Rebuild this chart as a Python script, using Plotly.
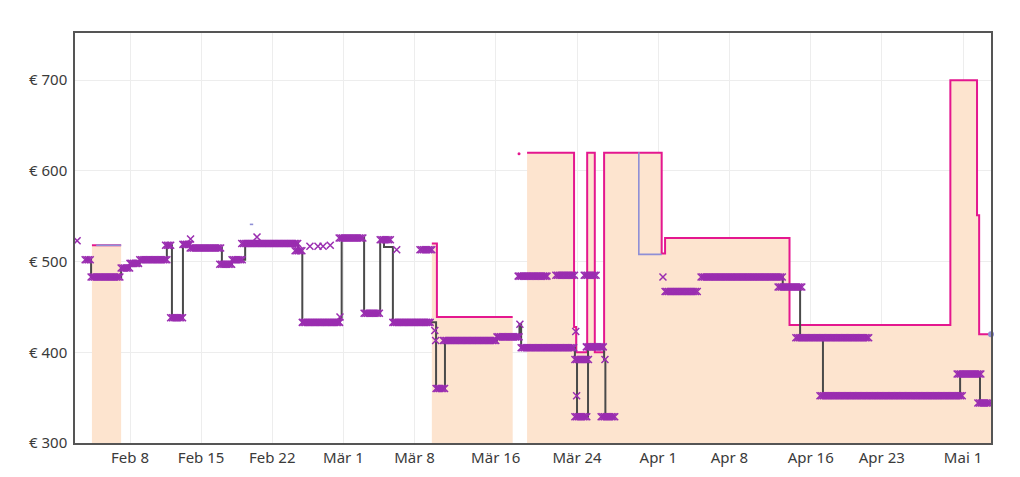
import plotly.graph_objects as go
import pandas as pd

# ---------------- data ----------------
# Amazon price (step series, None = no offer)
amz_dates = ["2023-02-04 06:00", "2023-02-07 03:00", None,
             "2023-03-09 17:00", "2023-03-10 05:00", "2023-03-17 16:00", None,
             "2023-03-19 02:00", "2023-03-23 17:00", "2023-03-23 22:00", "2023-03-25 00:00",
             "2023-03-25 18:00", "2023-03-26 16:00", "2023-04-01 08:00", "2023-04-01 16:00",
             "2023-04-13 22:00", "2023-04-29 18:00", "2023-05-02 09:00", "2023-05-02 14:00",
             "2023-05-03 18:00"]
amz_vals = [518, 518, None,
            520, 439, 439, None,
            620, 428, 400, 620,
            400, 620, 509, 526,
            430, 700, 551, 420,
            420]
amz_dot_date = ["2023-03-18 07:00"]
amz_dot_val = [619]

# Second series (lavender)
lav_dates = ["2023-02-04 16:00", "2023-02-07 03:00", None,
             "2023-02-19 19:00", "2023-02-20 03:00", None,
             "2023-03-30 01:00", "2023-03-30 02:00", "2023-04-01 08:00"]
lav_vals = [518, 518, None,
            541, 541, None,
            620, 508, 508]
lav_end_date = ["2023-05-03 18:00"]
lav_end_val = [420]

# Third-party price (step line)
gray_dates = ["2023-02-03 14:00", "2023-02-04 04:00", "2023-02-07 03:00", "2023-02-08 00:00",
              "2023-02-08 23:00", "2023-02-11 15:00", "2023-02-12 03:00", "2023-02-13 05:00",
              "2023-02-13 22:00", "2023-02-17 01:00", "2023-02-18 01:00", "2023-02-19 08:00",
              "2023-02-24 13:00", "2023-02-24 23:00", "2023-02-28 16:00", "2023-02-28 20:00",
              "2023-03-03 01:00", "2023-03-04 15:00", "2023-03-05 00:00", "2023-03-05 21:00",
              "2023-03-10 03:00", "2023-03-11 00:00", "2023-03-16 03:00", "2023-03-18 08:00",
              "2023-03-18 12:00", "2023-03-23 19:00", "2023-03-24 00:00", "2023-03-25 02:00",
              "2023-03-26 16:00", "2023-03-26 19:00", "2023-03-27 18:00", None,
              "2023-04-05 05:00", "2023-04-13 06:00", "2023-04-14 23:00", "2023-04-17 05:00",
              "2023-04-30 17:00", "2023-05-02 16:00", "2023-05-03 18:00"]
gray_vals = [502, 483, 493, 498,
             502, 518, 438, 520,
             515, 497, 502, 520,
             512, 433, 439, 526,
             443, 524, 516, 433,
             360, 413, 418, 431,
             405, 392, 329, 405,
             392, 329, 329, None,
             483, 472, 416, 352,
             376, 344, 344]

# Observed offers: runs of constant price (start, end, price)
run_starts = ["2023-02-03 14:00", "2023-02-04 04:00", "2023-02-07 03:00", "2023-02-08 00:00",
              "2023-02-08 23:00", "2023-02-11 12:00", "2023-02-12 00:00", "2023-02-13 05:00",
              "2023-02-13 22:00", "2023-02-16 20:00", "2023-02-18 01:00", "2023-02-19 00:00",
              "2023-02-24 06:00", "2023-02-24 23:00", "2023-02-28 14:00", "2023-03-03 01:00",
              "2023-03-04 15:00", "2023-03-05 21:00", "2023-03-08 13:00", "2023-03-10 03:00",
              "2023-03-10 20:00", "2023-03-16 03:00", "2023-03-18 12:00", "2023-03-18 05:00",
              "2023-03-21 22:00", "2023-03-24 17:00", "2023-03-23 19:00", "2023-03-23 19:00",
              "2023-03-24 22:00", "2023-03-26 09:00", "2023-04-01 16:00", "2023-04-05 05:00",
              "2023-04-12 19:00", "2023-04-14 13:00", "2023-04-16 22:00", "2023-04-30 10:00",
              "2023-05-02 11:00"]
run_ends = ["2023-02-04 02:00", "2023-02-07 03:00", "2023-02-08 00:00", "2023-02-08 23:00",
            "2023-02-11 15:00", "2023-02-12 03:00", "2023-02-13 05:00", "2023-02-13 22:00",
            "2023-02-17 01:00", "2023-02-18 01:00", "2023-02-19 03:00", "2023-02-24 13:00",
            "2023-02-24 23:00", "2023-02-28 16:00", "2023-03-03 00:00", "2023-03-04 15:00",
            "2023-03-05 16:00", "2023-03-09 13:00", "2023-03-09 20:00", "2023-03-11 00:00",
            "2023-03-16 03:00", "2023-03-18 10:00", "2023-03-23 19:00", "2023-03-21 01:00",
            "2023-03-23 19:00", "2023-03-25 21:00", "2023-03-25 03:00", "2023-03-25 02:00",
            "2023-03-26 16:00", "2023-03-27 18:00", "2023-04-04 22:00", "2023-04-13 06:00",
            "2023-04-15 03:00", "2023-04-21 18:00", "2023-05-01 00:00", "2023-05-02 21:00",
            "2023-05-04 01:00"]
run_vals = [502, 483, 493, 498,
            502, 518, 438, 519,
            515, 497, 502, 520,
            512, 433, 526, 443,
            524, 433, 513, 360,
            413, 417, 405, 484,
            485, 485, 392, 329,
            406, 329, 467, 483,
            472, 416, 352, 376,
            344]

single_dates = ["2023-02-02 19:00", "2023-02-13 23:00", "2023-02-20 12:00", "2023-02-25 17:00",
                "2023-02-26 12:00", "2023-02-27 00:00", "2023-02-27 17:00", "2023-02-28 16:00",
                "2023-03-06 06:00", "2023-03-10 00:00", "2023-03-10 02:00", "2023-03-18 09:00",
                "2023-03-23 21:00", "2023-03-23 23:00", "2023-03-26 18:00", "2023-04-01 11:00"]
single_vals = [523, 525, 527, 517,
               517, 517, 518, 439,
               513, 424, 413, 431,
               423, 352, 392, 483]

tick_dates = ["2023-02-08", "2023-02-15", "2023-02-22", "2023-03-01", "2023-03-08", "2023-03-16",
              "2023-03-24", "2023-04-01", "2023-04-08", "2023-04-16", "2023-04-23", "2023-05-01"]
tick_labels = ["Feb 8", "Feb 15", "Feb 22", "Mär 1", "Mär 8", "Mär 16",
               "Mär 24", "Apr 1", "Apr 8", "Apr 16", "Apr 23", "Mai 1"]
y_ticks = [300, 400, 500, 600, 700]

# observation times within each run (every 4 hours)
mk_x, mk_y = [], []
for s, e, v in zip(run_starts, run_ends, run_vals):
    for t in pd.date_range(s, e, freq="4h"):
        mk_x.append(t)
        mk_y.append(v)
mk_x += [pd.Timestamp(d) for d in single_dates]
mk_y += single_vals

# split the Amazon series at the gaps so each offer period is filled on its own
segments = []
cur_x, cur_y = [], []
for d, v in zip(amz_dates, amz_vals):
    if d is None:
        segments.append((cur_x, cur_y))
        cur_x, cur_y = [], []
    else:
        cur_x.append(d)
        cur_y.append(v)
segments.append((cur_x, cur_y))

# ---------------- figure ----------------
PEACH = "#FDE4CF"
MAGENTA = "#E4178F"
LAV = "#8F8FD6"
GRAY = "#4A4A4A"
PURPLE = "#9A2DB0"

fig = go.Figure()
for sx, sy in segments:
    fig.add_trace(go.Scatter(x=sx, y=sy, mode="lines", line_shape="hv",
                             line=dict(width=0), fill="tozeroy", fillcolor=PEACH,
                             hoverinfo="skip"))
fig.add_trace(go.Scatter(x=amz_dates, y=amz_vals, mode="lines", line_shape="hv",
                         line=dict(color=MAGENTA, width=2), connectgaps=False))
fig.add_trace(go.Scatter(x=amz_dot_date, y=amz_dot_val, mode="markers",
                         marker=dict(color=MAGENTA, size=3)))
fig.add_trace(go.Scatter(x=lav_dates, y=lav_vals, mode="lines", line_shape="hv",
                         line=dict(color=LAV, width=1.6), connectgaps=False))
fig.add_trace(go.Scatter(x=gray_dates, y=gray_vals, mode="lines", line_shape="hv",
                         line=dict(color=GRAY, width=2), connectgaps=False))
fig.add_trace(go.Scatter(x=mk_x, y=mk_y, mode="markers",
                         marker=dict(symbol="x-thin", size=7, color=PURPLE,
                                     line=dict(color=PURPLE, width=1.5))))
fig.add_trace(go.Scatter(x=lav_end_date, y=lav_end_val, mode="markers",
                         marker=dict(color=LAV, size=6), cliponaxis=False))

fig.update_layout(
    width=1020, height=477,
    margin=dict(l=75, r=29, t=33, b=34),
    paper_bgcolor="white", plot_bgcolor="white",
    showlegend=False,
    font=dict(family="Noto Sans, Open Sans, sans-serif", size=15, color="#3A3A3A"),
    xaxis=dict(range=["2023-02-02 14:00", "2023-05-03 18:00"],
               tickvals=tick_dates, ticktext=tick_labels, automargin=False,
               showgrid=True, gridcolor="#EDEDED", gridwidth=1,
               showline=True, linecolor="#555", linewidth=1.5, mirror=True,
               ticks="", zeroline=False),
    yaxis=dict(range=[300, 752], tickvals=y_ticks, automargin=False,
               ticktext=["€ " + str(v) for v in y_ticks],
               showgrid=True, gridcolor="#EDEDED", gridwidth=1,
               showline=True, linecolor="#555", linewidth=1.5, mirror=True,
               ticks="", zeroline=False, ticklabelstandoff=3),
)

fig.write_html("out.html")
